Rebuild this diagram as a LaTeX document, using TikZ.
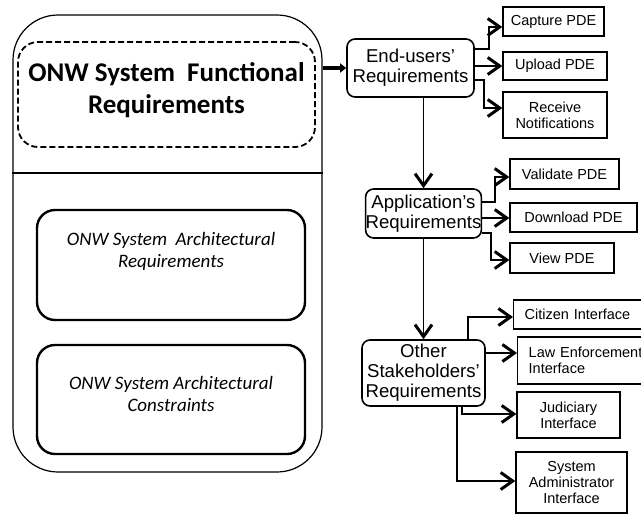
\documentclass[tikz,border=0pt]{standalone}
\usepackage{fontspec}
\setmainfont{Liberation Sans}
\newfontfamily\calib{Carlito}
\usetikzlibrary{arrows.meta}
\begin{document}
\begin{tikzpicture}[x=1pt,y=-1pt,
  req/.style={draw, rounded corners=8pt, line width=1.6pt, align=center,
    font=\fontsize{18.6}{20}\selectfont, inner sep=0pt},
  item/.style={draw, line width=1.4pt, align=center,
    font=\fontsize{14.5}{16}\selectfont, inner sep=0pt},
  wideitem/.style={draw, line width=1.4pt, align=left, anchor=west,
    font=\fontsize{14.5}{16}\selectfont, inner xsep=11pt, inner ysep=0pt, text width=120pt},
  archbox/.style={draw, rounded corners=18pt, line width=2.4pt,
    minimum width=268pt},
  archtxt/.style={font=\calib\itshape\fontsize{19}{22}\selectfont, align=center},
  conn/.style={line width=1.8pt, -{Straight Barb[length=12pt,width=17pt,line width=3pt]}},
  bigconn/.style={line width=3.4pt, -{Triangle[length=6pt,width=9pt]}}
]
\useasboundingbox (0,0) rectangle (641,515);
\clip (0,0) rectangle (641,515);

% ---- left: system requirements frame ----
\node[draw, rounded corners=45pt, line width=1.2pt,
  minimum width=309pt, minimum height=457pt] (sysbox) at (167.5,243.5) {};
\node[draw, dashed, dash pattern=on 6pt off 3pt, rounded corners=20pt, line width=1.8pt,
  minimum width=297pt, minimum height=105pt] (funcbox) at (166.5,94.5) {};
\node[font=\calib\bfseries\fontsize{27}{32}\selectfont, align=center] (functxt)
  at (166.5,90) {ONW System\ \ Functional\\Requirements};
\draw[line width=2.6pt] (sysbox.west |- 0,173) -- (sysbox.east |- 0,173);

\node[archbox, minimum height=110pt] (archreq) at (171,265) {};
\node[archtxt] (archreqtxt) at (171,251) {ONW System\ \ Architectural\\Requirements};
\node[archbox, minimum height=109pt] (archcon) at (171,399.5) {};
\node[archtxt] (archcontxt) at (171,394) {ONW System Architectural\\Constraints};

% ---- right: requirement groups ----
\node[req, minimum width=127pt, minimum height=58pt] (eu) at (410.5,68) {End-users'\\Requirements};
\node[req, minimum width=115pt, minimum height=49pt] (app) at (423.5,213.5) {Application's\\Requirements};
\node[req, minimum width=123pt, minimum height=66pt] (oth) at (423.5,373) {Other\\Stakeholders'\\Requirements};

\node[item, minimum width=101pt, minimum height=29pt] (cap) at (553.5,21.5) {Capture PDE};
\node[item, minimum width=104pt, minimum height=28pt] (upl) at (555,66) {Upload PDE};
\node[item, minimum width=104pt, minimum height=46pt] (rec) at (555,115) {Receive\\Notifications};

\node[item, minimum width=109pt, minimum height=30pt] (val) at (564.5,174) {Validate PDE};
\node[item, minimum width=127pt, minimum height=29pt] (dwn) at (573.5,217.5) {Download PDE};
\node[item, minimum width=104pt, minimum height=30pt] (vw) at (562,258) {View PDE};

\node[wideitem, minimum height=29pt] (cit) at (513,314.5) {Citizen Interface};
\node[wideitem, minimum height=47pt] (law) at (517,360.5) {Law Enforcement\\Interface};
\node[item, minimum width=103pt, minimum height=46pt] (jud) at (568.5,415) {Judiciary\\Interface};
\node[item, minimum width=111pt, minimum height=61pt] (sys) at (571.5,482.5) {System\\Administrator\\Interface};

% ---- connectors ----
\draw[bigconn] (sysbox.east |- eu.west) -- (eu.west);

\draw[conn] (eu.east |- 0,49) -| (489,27) -- (cap.west |- 0,27);
\draw[conn] (eu.east |- 0,66) -- (upl.west |- 0,66);
\draw[conn] (eu.east |- 0,80) -| (484,108) -- (rec.west |- 0,108);
\draw[conn] (app.north |- eu.south) -- (app.north);

\draw[conn] (app.east |- 0,202) -| (495,177) -- (val.west |- 0,177);
\draw[conn] (app.east |- 0,218) -- (dwn.west |- 0,218);
\draw[conn] (app.east |- 0,233) -| (491,260) -- (vw.west |- 0,260);
\draw[conn] (app.south) -- (oth.north);

\draw[conn] (468,0 |- oth.north) |- (cit.west |- 0,317);
\draw[conn] (oth.east |- 0,353) -- (law.west |- 0,353);
\draw[conn] (462,0 |- oth.south) |- (jud.west |- 0,414);
\draw[conn] (457,0 |- oth.south) |- (sys.west |- 0,481);
\end{tikzpicture}
\end{document}
